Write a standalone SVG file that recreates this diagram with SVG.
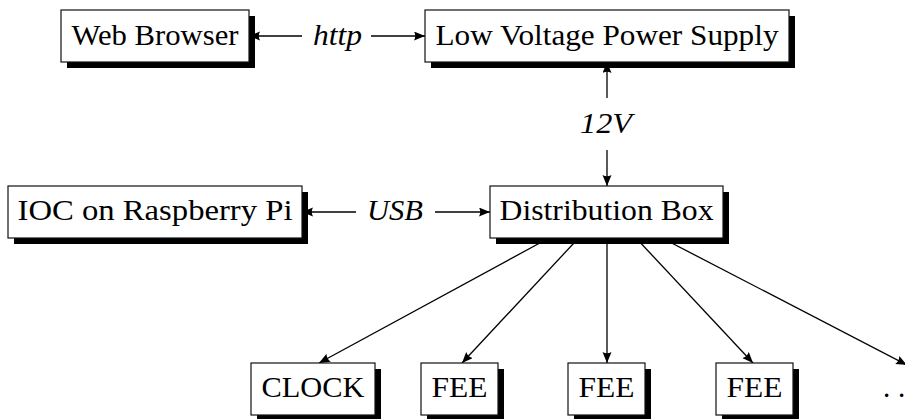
<svg xmlns="http://www.w3.org/2000/svg" width="905" height="419" viewBox="0 0 905 419">
<defs>
<marker id="tip" markerUnits="userSpaceOnUse" markerWidth="12" markerHeight="10" refX="11" refY="4.5" orient="auto">
<path d="M0,0 L11,4.5 L0,9 Q2.5,4.5 0,0 Z" fill="#000"/>
</marker>
<style>
.box{fill:#fff;stroke:#111;stroke-width:1.2}
.sh{fill:#000}
.t{font-size:29px;fill:#000;text-anchor:middle}
.i{font-style:italic}
.c{stroke:#000;stroke-width:1.3;fill:none;marker-end:url(#tip)}
</style>
</defs>
<rect width="905" height="419" fill="#fff"/>
<g font-family="Liberation Serif, Times New Roman, Tinos, DejaVu Serif, Noto Serif, serif">
<g id="connectors">
<line class="c" x1="302" y1="36" x2="249" y2="36"/>
<line class="c" x1="371" y1="36" x2="425" y2="36"/>
<text class="t i" x="337.5" y="45" textLength="49" lengthAdjust="spacingAndGlyphs">http</text>
<line class="c" x1="607" y1="98" x2="607" y2="62"/>
<line class="c" x1="607" y1="150" x2="607" y2="186"/>
<text class="t i" x="606" y="133" textLength="52" lengthAdjust="spacingAndGlyphs">12V</text>
<line class="c" x1="356" y1="212" x2="302" y2="212"/>
<line class="c" x1="435" y1="212" x2="490" y2="212"/>
<text class="t i" x="395" y="220" textLength="56" lengthAdjust="spacingAndGlyphs">USB</text>
<line class="c" x1="549" y1="238" x2="319" y2="363"/>
<line class="c" x1="578.6" y1="238" x2="462" y2="363"/>
<line class="c" x1="607" y1="238" x2="607" y2="363"/>
<line class="c" x1="636" y1="238" x2="753" y2="363"/>
<line class="c" x1="662" y1="238" x2="907" y2="365"/>
</g>
<g id="web-browser">
<rect class="sh" x="67" y="16" width="188" height="52"/>
<rect class="box" x="61" y="10" width="188" height="52"/>
<text class="t" x="155" y="45" textLength="167" lengthAdjust="spacingAndGlyphs">Web Browser</text>
</g>
<g id="lv-power-supply">
<rect class="sh" x="431" y="16" width="364" height="52"/>
<rect class="box" x="425" y="10" width="364" height="52"/>
<text class="t" x="607" y="45" textLength="343" lengthAdjust="spacingAndGlyphs">Low Voltage Power Supply</text>
</g>
<g id="ioc">
<rect class="sh" x="14" y="192" width="294" height="52"/>
<rect class="box" x="8" y="186" width="294" height="52"/>
<text class="t" x="155" y="220" textLength="275" lengthAdjust="spacingAndGlyphs">IOC on Raspberry Pi</text>
</g>
<g id="distribution-box">
<rect class="sh" x="496" y="192" width="233" height="52"/>
<rect class="box" x="490" y="186" width="233" height="52"/>
<text class="t" x="606.5" y="220" textLength="214" lengthAdjust="spacingAndGlyphs">Distribution Box</text>
</g>
<g id="clock">
<rect class="sh" x="257" y="369" width="124" height="52"/>
<rect class="box" x="251" y="363" width="124" height="52"/>
<text class="t" x="313" y="397" textLength="103" lengthAdjust="spacingAndGlyphs">CLOCK</text>
</g>
<g id="fee1">
<rect class="sh" x="427" y="369" width="77" height="52"/>
<rect class="box" x="421" y="363" width="77" height="52"/>
<text class="t" x="459.5" y="397" textLength="56" lengthAdjust="spacingAndGlyphs">FEE</text>
</g>
<g id="fee2">
<rect class="sh" x="574" y="369" width="77" height="52"/>
<rect class="box" x="568" y="363" width="77" height="52"/>
<text class="t" x="606.5" y="397" textLength="56" lengthAdjust="spacingAndGlyphs">FEE</text>
</g>
<g id="fee3">
<rect class="sh" x="722" y="369" width="77" height="52"/>
<rect class="box" x="716" y="363" width="77" height="52"/>
<text class="t" x="754.5" y="397" textLength="56" lengthAdjust="spacingAndGlyphs">FEE</text>
</g>
<g id="more">
<text class="t" x="883" y="397" style="text-anchor:start;letter-spacing:7.75px">...</text>
</g>
</g>
</svg>
